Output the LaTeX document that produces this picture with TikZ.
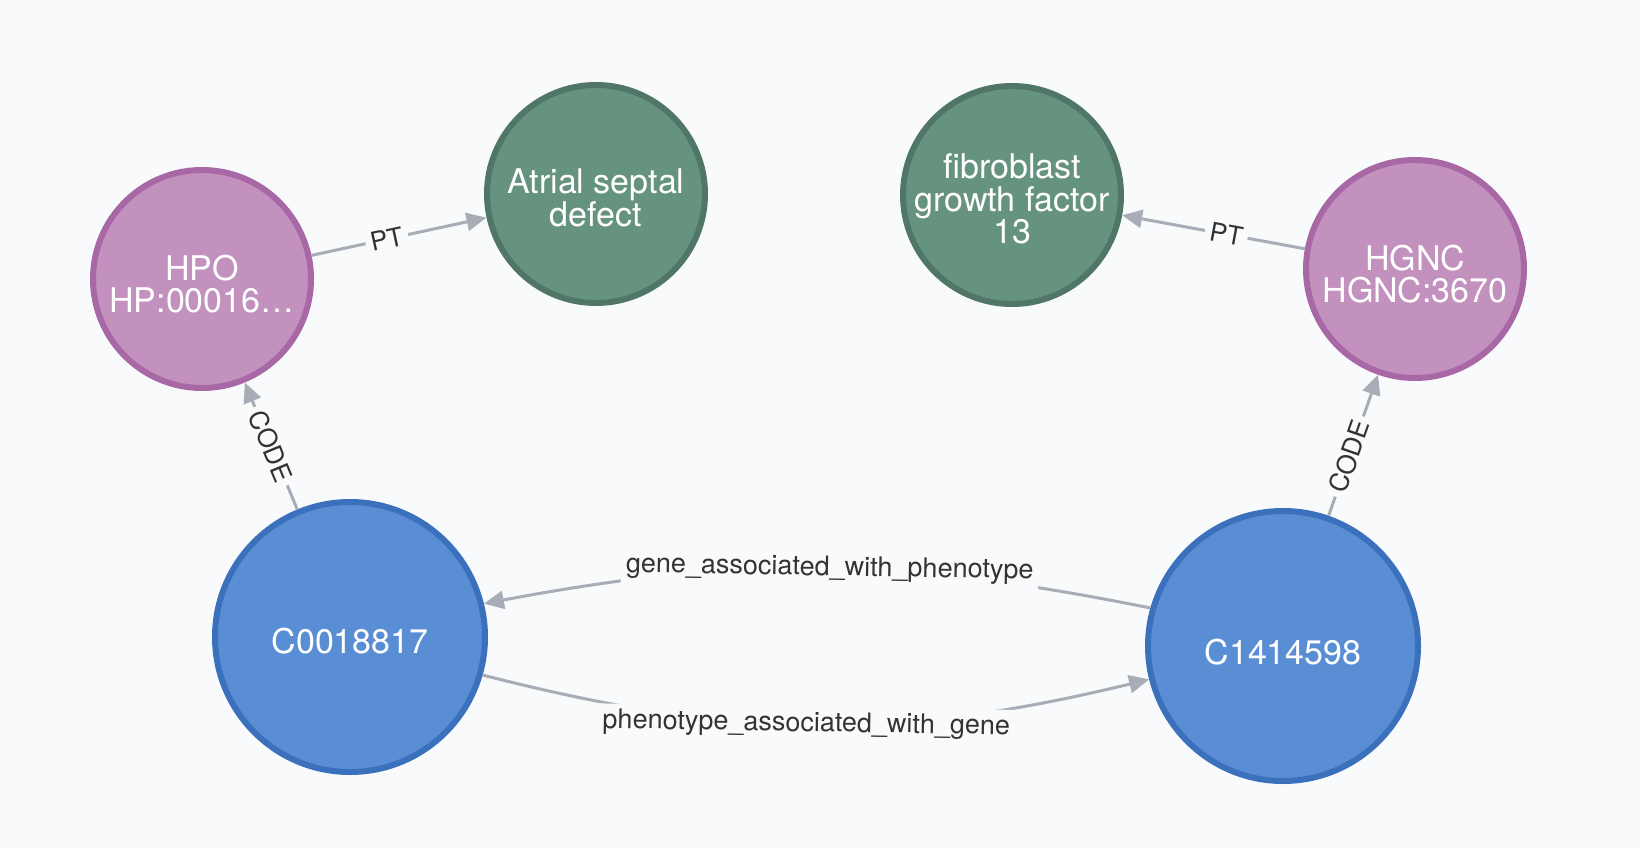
\documentclass[tikz,border=0pt]{standalone}
\usepackage{fontspec}
\setmainfont{TeX Gyre Heros}
\usetikzlibrary{arrows.meta}
\definecolor{bg}{HTML}{F9FAFC}
\definecolor{pinkfill}{HTML}{C291BD}
\definecolor{pinkline}{HTML}{A768A5}
\definecolor{greenfill}{HTML}{66937F}
\definecolor{greenline}{HTML}{4F7666}
\definecolor{bluefill}{HTML}{5A8ED4}
\definecolor{blueline}{HTML}{3B70BD}
\definecolor{edgegrey}{HTML}{A8ACB6}
\definecolor{labeltext}{HTML}{333333}
\begin{document}
\begin{tikzpicture}[x=1pt,y=1pt,
 nodebase/.style={circle, line width=6pt, inner sep=0pt},
 smallnode/.style={nodebase, minimum size=218pt},
 bignode/.style={nodebase, minimum size=270pt},
 pinknode/.style={smallnode, fill=pinkfill, draw=pinkline},
 greennode/.style={smallnode, fill=greenfill, draw=greenline},
 bluenode/.style={bignode, fill=bluefill, draw=blueline},
 nodetext/.style={text=white, font=\fontsize{34}{32.5}\selectfont, align=center, inner sep=0pt},
 edge/.style={draw=edgegrey, line width=3pt, -{Triangle[length=20pt,width=18pt]}},
 elabel/.style={font=\fontsize{26}{26}\selectfont, text=labeltext, fill=bg, inner sep=5pt, sloped},
 longlabel/.style={elabel, font=\fontsize{27}{27}\selectfont}
]
\fill[bg] (0,0) rectangle (1640,-848);
\useasboundingbox (0,0) rectangle (1640,-848);

\node[pinknode] (hpo) at (202,-279) {};
\node[greennode] (asd) at (596,-194) {};
\node[greennode] (fgf) at (1012,-195) {};
\node[pinknode] (hgnc) at (1415,-269) {};
\node[bluenode] (c1) at (350,-637) {};
\node[bluenode] (c2) at (1283,-646) {};

\node[nodetext] (hpo-text) at ([yshift=-5pt]hpo.center) {HPO\\HP:00016…};
\node[nodetext] (asd-text) at ([yshift=-4pt]asd.center) {Atrial septal\\defect};
\node[nodetext] (fgf-text) at ([yshift=-4pt]fgf.center) {fibroblast\\growth factor\\13};
\node[nodetext] (hgnc-text) at ([yshift=-5pt]hgnc.center) {HGNC\\HGNC:3670};
\node[nodetext] (c1-text) at ([yshift=-4pt]c1.center) {C0018817};
\node[nodetext] (c2-text) at ([yshift=-6pt]c2.center) {C1414598};

\draw[edge] (hpo) -- node[elabel, pos=0.43] {PT} (asd);
\draw[edge] (hgnc) -- node[elabel, pos=0.43] {PT} (fgf);
\draw[edge] (c1) -- node[elabel, pos=0.5] {CODE} (hpo);
\draw[edge] (c2) -- node[elabel, pos=0.42] {CODE} (hgnc);
\draw[edge] (c2.164) to[bend right=11] node[longlabel, pos=0.48] {gene\_associated\_with\_phenotype} (c1.14);
\draw[edge] (c1.-16) to[bend right=14] node[longlabel, pos=0.485] {phenotype\_associated\_with\_gene} (c2.194);
\end{tikzpicture}
\end{document}
